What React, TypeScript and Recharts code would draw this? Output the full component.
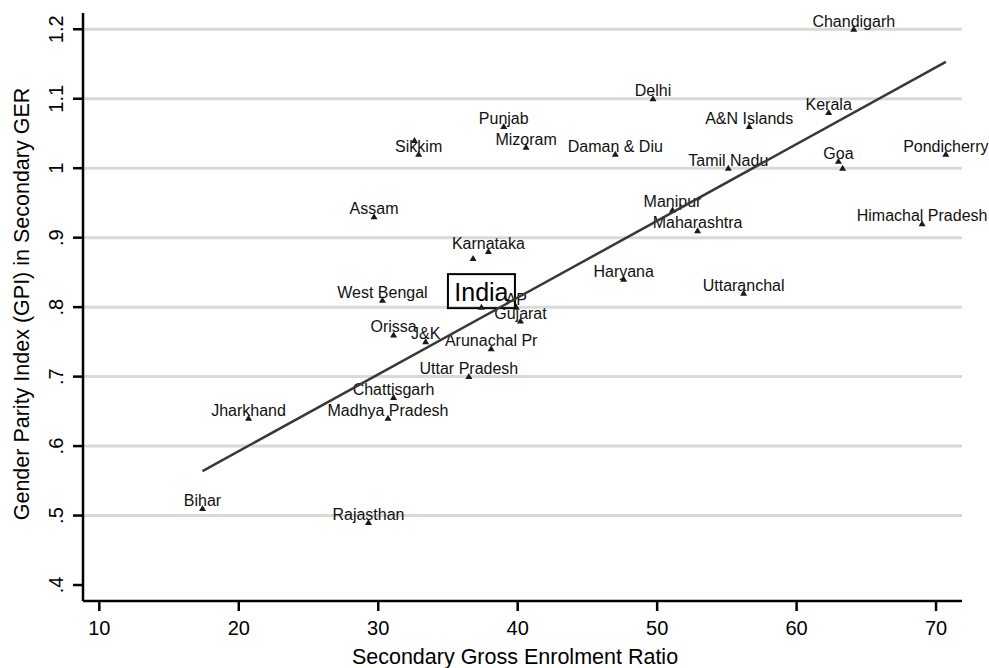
import React from 'react';
import { ScatterChart, Scatter, XAxis, YAxis, CartesianGrid } from 'recharts';

// states / UTs
const stateNames = [
  'Chandigarh', 'Delhi', 'Punjab', 'Mizoram', 'Sikkim', '', 'Assam', 'Karnataka', '',
  'Daman & Diu', 'Tamil Nadu', 'A&N Islands', 'Kerala', 'Goa', '', 'Pondicherry',
  'Manipur', 'Maharashtra', 'Himachal Pradesh', 'Haryana', 'Uttaranchal', 'West Bengal',
  'AP', 'Gujarat', 'Orissa', 'J&K', 'Arunachal Pr', 'Uttar Pradesh', 'Chattisgarh',
  'Madhya Pradesh', 'Jharkhand', 'Bihar', 'Rajasthan',
];
const secondaryGER = [
  64.1, 49.7, 39.0, 40.6, 32.9, 32.6, 29.7, 37.9, 36.8,
  47.0, 55.1, 56.6, 62.3, 63.0, 63.3, 70.7,
  51.1, 52.9, 69.0, 47.6, 56.2, 30.3,
  39.9, 40.2, 31.1, 33.4, 38.1, 36.5, 31.1,
  30.7, 20.7, 17.4, 29.3,
];
const gpiSecondary = [
  1.20, 1.10, 1.06, 1.03, 1.02, 1.04, 0.93, 0.88, 0.87,
  1.02, 1.00, 1.06, 1.08, 1.01, 1.00, 1.02,
  0.94, 0.91, 0.92, 0.84, 0.82, 0.81,
  0.80, 0.78, 0.76, 0.75, 0.74, 0.70, 0.67,
  0.64, 0.64, 0.51, 0.49,
];

const indiaGER = [37.4];
const indiaGPI = [0.80];

// linear fit end points
const fitGER = [17.4, 70.7];
const fitGPI = [0.564, 1.153];

const xTicks = [10, 20, 30, 40, 50, 60, 70];
const yTicks = [0.4, 0.5, 0.6, 0.7, 0.8, 0.9, 1.0, 1.1, 1.2];
const yTickLabels = ['.4', '.5', '.6', '.7', '.8', '.9', '1', '1.1', '1.2'];
const gridValues = [0.5, 0.6, 0.7, 0.8, 0.9, 1.0, 1.1, 1.2];

const FONT = '"Liberation Sans", Arial, Helvetica, sans-serif';

const states = stateNames.map((name, i) => ({ name, x: secondaryGER[i], y: gpiSecondary[i] }));
const india = indiaGER.map((x, i) => ({ name: 'India', x, y: indiaGPI[i] }));
const fitLine = fitGER.map((x, i) => ({ x, y: fitGPI[i] }));

const triangle = (cx: number, cy: number) =>
  `M${cx},${cy - 3.5} L${cx + 3.5},${cy + 2.5} L${cx - 3.5},${cy + 2.5} Z`;

const StatePoint = (props: any) => {
  const { cx, cy, payload } = props;
  if (cx == null || cy == null) return <g />;
  return (
    <g>
      {payload.name && (
        <text x={cx} y={cy - 2.5} textAnchor="middle" fontSize={16} fontFamily={FONT} fill="#111">
          {payload.name}
        </text>
      )}
      <path d={triangle(cx, cy)} fill="#1a1a1a" />
    </g>
  );
};

const IndiaPoint = (props: any) => {
  const { cx, cy } = props;
  if (cx == null || cy == null) return <g />;
  return (
    <g>
      <rect x={cx - 33.5} y={cy - 33} width={67} height={34} fill="none" stroke="#000" strokeWidth={2} />
      <text x={cx} y={cy - 6} textAnchor="middle" fontSize={25} fontFamily={FONT} fill="#000">
        India
      </text>
      <path d={triangle(cx, cy)} fill="#1a1a1a" />
    </g>
  );
};

const XTick = (props: any) => {
  const { x, y, payload } = props;
  return (
    <text x={x} y={y + 23.5} textAnchor="middle" fontSize={20} fontFamily={FONT} fill="#000">
      {payload.value}
    </text>
  );
};

const YTick = (props: any) => {
  const { x, y, payload } = props;
  const idx = yTicks.findIndex(t => Math.abs(t - payload.value) < 1e-6);
  const tx = x - 10;
  return (
    <text x={tx} y={y} transform={`rotate(-90, ${tx}, ${y})`} textAnchor="middle" fontSize={20} fontFamily={FONT} fill="#000">
      {idx >= 0 ? yTickLabels[idx] : payload.value}
    </text>
  );
};

const XTitle = () => (
  <text x={515} y={664} textAnchor="middle" fontSize={21.5} fontFamily={FONT} fill="#000">
    Secondary Gross Enrolment Ratio
  </text>
);

const YTitle = () => (
  <text x={28.5} y={304} transform="rotate(-90, 28.5, 304)" textAnchor="middle" fontSize={21.5} fontFamily={FONT} fill="#000">
    Gender Parity Index (GPI) in Secondary GER
  </text>
);

const App: React.FC = () => {
  return (
    <div style={{ position: 'absolute', left: 0, top: 0, width: 989, height: 668, background: '#fff' }}>
      <ScatterChart width={989} height={668} margin={{ top: 13, right: 27, bottom: 0, left: 0 }}>
        <CartesianGrid horizontal vertical={false} horizontalValues={gridValues} stroke="#d9d9d9" strokeWidth={3} />
        <XAxis
          type="number"
          dataKey="x"
          domain={[8.83, 71.86]}
          ticks={xTicks}
          interval={0}
          height={67}
          tickSize={10}
          tickMargin={0}
          axisLine={{ stroke: '#000', strokeWidth: 2.5 }}
          tickLine={{ stroke: '#000', strokeWidth: 2.5 }}
          tick={XTick}
          label={{ content: XTitle }}
        />
        <YAxis
          type="number"
          dataKey="y"
          domain={[0.377, 1.2234]}
          ticks={yTicks}
          interval={0}
          width={83}
          tickSize={10}
          tickMargin={0}
          axisLine={{ stroke: '#000', strokeWidth: 2.5 }}
          tickLine={{ stroke: '#000', strokeWidth: 2.5 }}
          tick={YTick}
          label={{ content: YTitle }}
        />
        <Scatter data={states} shape={StatePoint} isAnimationActive={false} />
        <Scatter data={india} shape={IndiaPoint} isAnimationActive={false} />
        <Scatter
          data={fitLine}
          line={{ stroke: '#383838', strokeWidth: 2.5 }}
          shape={() => <g />}
          isAnimationActive={false}
        />
      </ScatterChart>
    </div>
  );
};

export default App;
